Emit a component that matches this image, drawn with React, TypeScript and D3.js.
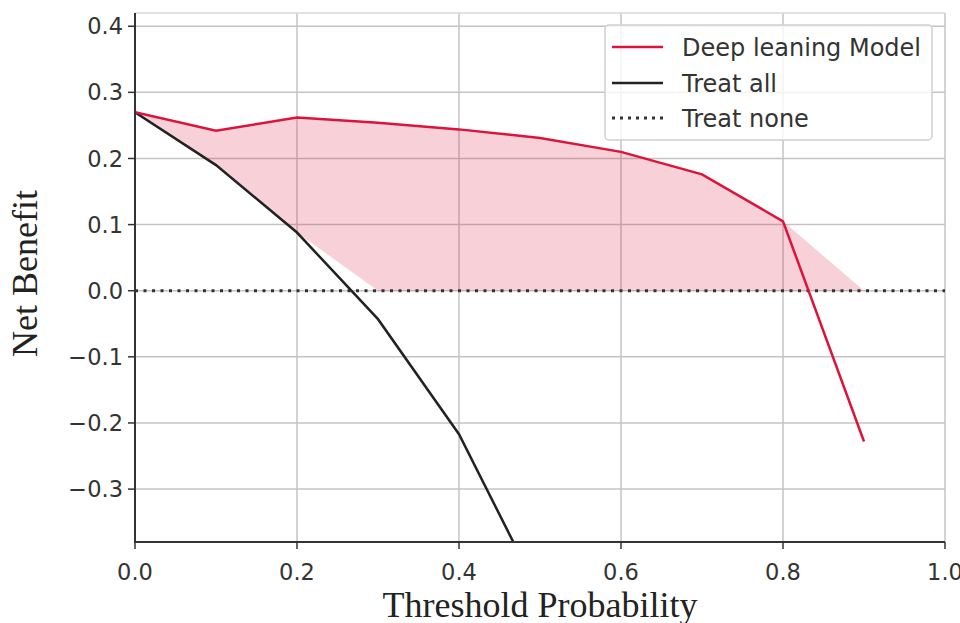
import React from "react";
import * as d3 from "d3";

const thresholds = [0, 0.1, 0.2, 0.3, 0.4, 0.5, 0.6, 0.7, 0.8, 0.9];
const modelNB = [0.27, 0.242, 0.262, 0.254, 0.244, 0.231, 0.21, 0.176, 0.105, -0.228];
const treatAllX = [0, 0.1, 0.2, 0.3, 0.4, 0.5];
const treatAllNB = [0.27, 0.19, 0.088, -0.043, -0.217, -0.46];
const treatNoneNB = [0, 0, 0, 0, 0, 0, 0, 0, 0, 0, 0];
const treatNoneX = [0, 0.1, 0.2, 0.3, 0.4, 0.5, 0.6, 0.7, 0.8, 0.9, 1.0];
const xTicks = [0, 0.2, 0.4, 0.6, 0.8, 1.0];
const yTicks = [-0.3, -0.2, -0.1, 0, 0.1, 0.2, 0.3, 0.4];
const legendLabels = ["Deep leaning Model", "Treat all", "Treat none"];

const W = 960, H = 623;
const L = 135, R = 945, T = 13, B = 542;
const CRIMSON = "#DC143C";

export default function App() {
  const x = d3.scaleLinear().domain([0, 1]).range([L, R]);
  const y = d3.scaleLinear().domain([-0.38, 0.42]).range([B, T]);

  const allAt = (t: number) => {
    const i = treatAllX.findIndex((v) => Math.abs(v - t) < 1e-9);
    return i >= 0 ? treatAllNB[i] : -Infinity;
  };
  const fillData = thresholds.map((t, i) => {
    const lo = Math.max(allAt(t), 0);
    const hi = Math.max(modelNB[i], lo);
    return { t, lo, hi };
  });
  const area = d3.area<any>().x((d) => x(d.t)).y0((d) => y(d.lo)).y1((d) => y(d.hi));
  const line = d3.line<[number, number]>().x((d) => x(d[0])).y((d) => y(d[1]));

  const modelPts = thresholds.map((t, i) => [t, modelNB[i]] as [number, number]);
  const allPts = treatAllX.map((t, i) => [t, treatAllNB[i]] as [number, number]);
  const nonePts = treatNoneX.map((t, i) => [t, treatNoneNB[i]] as [number, number]);

  const fmt = (v: number) => {
    const s = Math.abs(v).toFixed(1);
    return v < -1e-9 ? "\u2212" + s : s;
  };

  const legX = 605, legY = 25, legW = 327, legH = 115;
  const rowY = [47, 83, 118];
  const legendStyles = [
    { stroke: CRIMSON, dash: undefined as string | undefined, w: 2.5 },
    { stroke: "#222", dash: undefined, w: 2.5 },
    { stroke: "#333", dash: "3 5", w: 3 },
  ];

  return (
    <svg width={W} height={H} style={{ display: "block", position: "absolute", left: 0, top: 0 }}>
      <defs>
        <clipPath id="plot">
          <rect x={L} y={T} width={R - L} height={B - T} />
        </clipPath>
      </defs>
      <rect x={0} y={0} width={W} height={H} fill="#fff" />
      {/* grid */}
      <g stroke="#c4c4c4" strokeWidth={1.5}>
        {xTicks.map((t) => (
          <line key={"gx" + t} x1={x(t)} x2={x(t)} y1={T} y2={B} />
        ))}
        {yTicks.map((t) => (
          <line key={"gy" + t} x1={L} x2={R} y1={y(t)} y2={y(t)} />
        ))}
        <line x1={L} x2={R} y1={T} y2={T} stroke="#d8d8d8" />
      </g>
      <g clipPath="url(#plot)">
        <path d={area(fillData) || ""} fill={CRIMSON} fillOpacity={0.2} />
        <path d={line(nonePts) || ""} fill="none" stroke="#333" strokeWidth={3} strokeDasharray="3 5.5" />
        <path d={line(allPts) || ""} fill="none" stroke="#222" strokeWidth={2.5} />
        <path d={line(modelPts) || ""} fill="none" stroke={CRIMSON} strokeWidth={2.5} />
      </g>
      {/* spines */}
      <g stroke="#333" strokeWidth={2}>
        <line x1={L} x2={L} y1={T} y2={B + 1} />
        <line x1={L - 1} x2={R} y1={B} y2={B} />
      </g>
      {/* ticks */}
      <g stroke="#333" strokeWidth={1.5}>
        {yTicks.map((t) => (
          <line key={"ty" + t} x1={L - 7} x2={L} y1={y(t)} y2={y(t)} />
        ))}
        {xTicks.map((t) => (
          <line key={"tx" + t} x1={x(t)} x2={x(t)} y1={B} y2={B + 7} />
        ))}
      </g>
      <g fontFamily="DejaVu Sans" fontSize={22.5} fill="#333">
        {yTicks.map((t) => (
          <text key={"ly" + t} x={L - 12} y={y(t)} dy="0.36em" textAnchor="end">
            {fmt(t)}
          </text>
        ))}
        {xTicks.map((t) => (
          <text key={"lx" + t} x={x(t)} y={580} textAnchor="middle">
            {fmt(t)}
          </text>
        ))}
      </g>
      <text x={(L + R) / 2} y={617} textAnchor="middle" fontFamily="Liberation Serif" fontSize={36} fill="#222">
        Threshold Probability
      </text>
      <text
        transform={`translate(37, ${(T + B) / 2 - 4}) rotate(-90)`}
        textAnchor="middle"
        fontFamily="Liberation Serif"
        fontSize={36}
        fill="#222"
      >
        Net Benefit
      </text>
      {/* legend */}
      <rect x={legX} y={legY} width={legW} height={legH} rx={4} fill="#fff" fillOpacity={0.8} stroke="#d0d0d0" strokeWidth={1.5} />
      {legendLabels.map((lab, i) => (
        <g key={lab}>
          <line
            x1={612}
            x2={663}
            y1={rowY[i]}
            y2={rowY[i]}
            stroke={legendStyles[i].stroke}
            strokeWidth={legendStyles[i].w}
            strokeDasharray={legendStyles[i].dash}
          />
          <text x={682} y={rowY[i]} dy="0.36em" fontFamily="DejaVu Sans" fontSize={24} fill="#333">
            {lab}
          </text>
        </g>
      ))}
    </svg>
  );
}
